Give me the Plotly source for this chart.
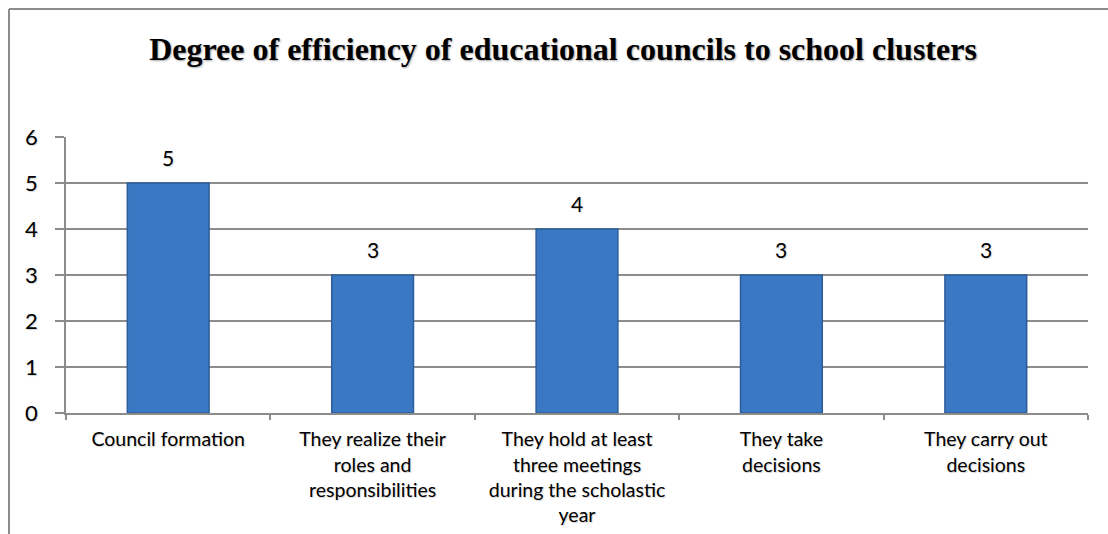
import plotly.graph_objects as go

# Survey results: number of responses per statement
categories = [
    "Council formation",
    "They realize their<br>roles and<br>responsibilities",
    "They hold at least<br>three meetings<br>during the scholastic<br>year",
    "They take<br>decisions",
    "They carry out<br>decisions",
]
values = [5, 3, 4, 3, 3]
y_ticks = [0, 1, 2, 3, 4, 5, 6]

title_text = "Degree of efficiency of educational councils to school clusters"

W, H = 1108, 534
L, R, T, B = 66, 20, 137, 121

FAMILY = "Lato, Carlito, Calibri, sans-serif"
soft = "1px 1px 1px rgba(0,0,0,0.18)"
xlabel_font = dict(family=FAMILY, size=19.5, color="#000000", shadow=soft)
ytick_font = dict(family=FAMILY, size=22, color="#000000", shadow=soft)
value_font = dict(family=FAMILY, size=21, color="#000000", shadow=soft)
grey = "#8c8c8c"

fig = go.Figure()
fig.add_trace(go.Bar(
    x=categories,
    y=values,
    width=0.4,
    marker=dict(color="#3a78c4", line=dict(color="#2c5d98", width=1.5)),
    hoverinfo="x+y",
))

# value labels above each bar
for c, v in zip(categories, values):
    fig.add_annotation(x=c, y=v, text=str(v), showarrow=False,
                       yshift=26, yanchor="middle", font=value_font)

# outer chart frame (left and top edges)
pw = W - L - R
ph = H - T - B
def px_x(p):
    return (p - L) / pw
def px_y(p):
    return (H - B - p) / ph

frame = dict(color=grey, width=2)
fig.add_shape(type="line", xref="paper", yref="paper",
              x0=px_x(9), x1=px_x(9), y0=px_y(9), y1=px_y(H + 5), line=frame)
fig.add_shape(type="line", xref="paper", yref="paper",
              x0=px_x(9), x1=px_x(W + 5), y0=px_y(9), y1=px_y(9), line=frame)

fig.update_layout(
    width=W, height=H,
    margin=dict(l=L, r=R, t=T, b=B),
    paper_bgcolor="white",
    plot_bgcolor="white",
    showlegend=False,
    title=dict(
        text=title_text,
        x=563 / W, xref="container", xanchor="center",
        y=1 - 49 / H, yref="container", yanchor="middle",
        font=dict(family="Liberation Serif, Times New Roman, serif", size=32,
                  color="#000000", weight="bold",
                  shadow="1px 1px 2px rgba(0,0,0,0.35)"),
    ),
    xaxis=dict(
        automargin=False,
        showline=True, linecolor=grey, linewidth=1.5,
        ticks="outside", tickson="boundaries", ticklen=5,
        tickcolor=grey, tickwidth=1.5,
        tickfont=xlabel_font,
        ticklabelstandoff=8,
        showgrid=False,
    ),
    yaxis=dict(
        automargin=False,
        range=[0, 6],
        tickvals=y_ticks,
        showline=True, linecolor=grey, linewidth=1.5,
        ticks="outside", ticklen=9, tickcolor=grey, tickwidth=1.5,
        tickfont=ytick_font,
        ticklabelstandoff=13,
        showgrid=True, gridcolor=grey, gridwidth=1.5,
        zeroline=False,
    ),
)

fig.write_html("out.html")
